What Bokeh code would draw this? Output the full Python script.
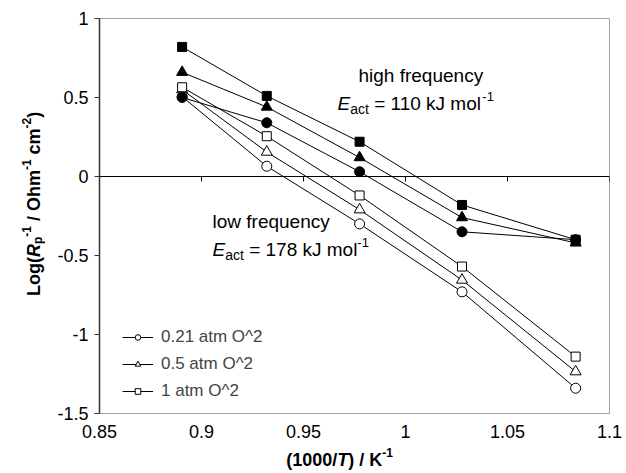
import math
from bokeh.plotting import figure
from bokeh.layouts import column, row
from bokeh.models import Range1d, FixedTicker, Label, Legend, LegendItem, Span
from bokeh.embed import file_html
from bokeh.resources import INLINE

# ---------------- data ----------------
inv_T = [0.8905, 0.9320, 0.9775, 1.0277, 1.0834]

# high frequency arc (filled markers)
hf_021 = [0.50, 0.34, 0.03, -0.35, -0.40]
hf_05 = [0.66, 0.44, 0.12, -0.26, -0.42]
hf_1 = [0.82, 0.51, 0.22, -0.18, -0.40]

# low frequency arc (open markers)
lf_021 = [0.505, 0.065, -0.30, -0.73, -1.34]
lf_05 = [0.55, 0.155, -0.21, -0.655, -1.235]
lf_1 = [0.565, 0.255, -0.12, -0.57, -1.14]

legend_labels = ["0.21 atm O^2", "0.5 atm O^2", "1 atm O^2"]

x_ticks = [0.85, 0.9, 0.95, 1.0, 1.05, 1.1]
x_tick_labels = ["0.85", "0.9", "0.95", "1", "1.05", "1.1"]
y_ticks = [-1.5, -1.0, -0.5, 0.0, 0.5, 1.0]
y_tick_labels = ["-1.5", "-1", "-0.5", "0", "0.5", "1"]

# ---------------- layout constants ----------------
W, H = 626, 473
YT_W = 46            # strip holding the y title
XT_H = 32            # strip holding the x title
MAIN_W, MAIN_H = W - YT_W, H - XT_H
FL, FR, FT = 99, 17, 18          # frame edges in page pixels
FRAME_W = W - FL - FR
FRAME_H = 395
FONT = "Liberation Sans"
X0, X1 = 0.85, 1.1
Y0, Y1 = -1.5, 1.0

p = figure(width=MAIN_W, height=MAIN_H, output_backend="svg",
           toolbar_location=None,
           x_range=Range1d(X0, X1), y_range=Range1d(Y0, Y1),
           min_border_left=FL - YT_W, min_border_right=FR,
           min_border_top=FT, min_border_bottom=MAIN_H - FT - FRAME_H)
p.grid.visible = False
p.outline_line_color = "#a0a0a0"
p.outline_line_width = 1

# left axis
ya = p.yaxis[0]
ya.ticker = FixedTicker(ticks=y_ticks)
ya.major_label_overrides = {t: l for t, l in zip(y_ticks, y_tick_labels)}
ya.axis_line_color = "#333333"
ya.axis_line_width = 1.5
ya.major_tick_line_color = "#333333"
ya.major_tick_in = 0
ya.major_tick_out = 5
ya.minor_tick_line_color = None
ya.major_label_text_font = FONT
ya.major_label_text_font_size = "18px"
ya.major_label_text_color = "black"
ya.major_label_standoff = 6

# bottom axis: labels only (the grey frame line)
xa = p.xaxis[0]
xa.ticker = FixedTicker(ticks=x_ticks)
xa.major_label_overrides = {t: l for t, l in zip(x_ticks, x_tick_labels)}
xa.axis_line_color = "#a0a0a0"
xa.major_tick_line_color = None
xa.minor_tick_line_color = None
xa.major_label_text_font = FONT
xa.major_label_text_font_size = "18px"
xa.major_label_text_color = "black"
xa.major_label_standoff = 5

# horizontal axis crossing at y = 0, with tick marks below it
p.add_layout(Span(location=0, dimension="width", line_color="black",
                  line_width=1))
TICK = 5 * (Y1 - Y0) / FRAME_H
p.segment(x0=x_ticks, y0=[0] * len(x_ticks), x1=x_ticks,
          y1=[-TICK] * len(x_ticks), line_color="black", line_width=1)

# ---------------- series ----------------
def series(y, marker, size, filled):
    r_line = p.line(inv_T, y, line_color="black", line_width=1)
    r_pt = p.scatter(inv_T, y, marker=marker, size=size,
                     fill_color="black" if filled else "white",
                     line_color="black", line_width=1)
    return r_line, r_pt

l021 = series(lf_021, "circle", 10, False)
l05 = series(lf_05, "triangle", 11, False)
l1 = series(lf_1, "square", 9, False)
series(hf_021, "circle", 10, True)
series(hf_05, "triangle", 11, True)
series(hf_1, "square", 9, True)

legend = Legend(items=[LegendItem(label=legend_labels[0], renderers=list(l021)),
                       LegendItem(label=legend_labels[1], renderers=list(l05)),
                       LegendItem(label=legend_labels[2], renderers=list(l1))],
                location=(23, 12), padding=0, margin=0, spacing=7,
                glyph_height=14, glyph_width=31, label_height=14,
                label_standoff=8, label_text_font=FONT,
                label_text_font_size="17px", label_text_baseline="middle",
                background_fill_alpha=0, border_line_alpha=0)
p.add_layout(legend)

# ---------------- rich text helper ----------------
REG = {' ': 278, 'a': 556, 'c': 500, 'e': 556, 'f': 278, 'g': 556, 'h': 556,
       'i': 222, 'k': 500, 'l': 222, 'm': 833, 'n': 556, 'o': 556, 'q': 556,
       'r': 333, 't': 278, 'u': 556, 'w': 722, 'y': 500, 'E': 667, 'J': 500,
       '=': 584, '-': 333, '/': 278, '(': 333, ')': 333}
BOLD = {' ': 278, 'L': 611, 'o': 611, 'g': 611, '(': 333, ')': 333, 'R': 722,
        'p': 611, '-': 333, '/': 278, 'O': 778, 'h': 611, 'm': 889, 'c': 556,
        'T': 611, 'K': 722}


def twidth(s, size, style):
    tab = BOLD if "bold" in style else REG
    return sum(tab.get(ch, 556) for ch in s) * size / 1000.0


def rich(fig, pieces, x, y, angle=0.0, center=False):
    """x, y: anchor in fig data units; pieces advance in screen pixels."""
    total = sum(twidth(t, s, st) for t, s, st, sh in pieces)
    d = -total / 2 if center else 0.0
    for t, s, st, sh in pieces:
        lead = len(t) - len(t.lstrip(" "))
        d += twidth(" " * lead, s, st)
        core = t.strip(" ")
        if angle == 0:
            xo, yo = d, sh
        else:
            xo, yo = -sh, d
        fig.add_layout(Label(x=x, y=y, x_offset=xo, y_offset=yo, text=core,
                             angle=angle, text_font=FONT,
                             text_font_size=f"{s}px", text_font_style=st,
                             text_color="black", text_baseline="alphabetic",
                             text_align="left"))
        d += twidth(t.lstrip(" "), s, st)


def to_data(cx, cy):
    return (X0 + (cx - FL) / FRAME_W * (X1 - X0),
            Y1 - (cy - FT) / FRAME_H * (Y1 - Y0))


rich(p, [("high frequency", 19, "normal", 0)], *to_data(358, 75))
rich(p, [("E", 19, "italic", 0), ("act", 14, "normal", -5),
         (" = 110 kJ mol", 19, "normal", 0), ("-1", 13, "normal", 7)],
     *to_data(337, 103))
rich(p, [("low frequency", 19, "normal", 0)], *to_data(212, 221))
rich(p, [("E", 19, "italic", 0), ("act", 14, "normal", -5),
         (" = 178 kJ mol", 19, "normal", 0), ("-1", 13, "normal", 7)],
     *to_data(212, 249))

# ---------------- title strips (page-pixel coordinates) ----------------
def strip(w, h):
    f = figure(width=w, height=h, output_backend="svg", toolbar_location=None,
               x_range=Range1d(0, w), y_range=Range1d(h, 0),
               x_axis_location=None, y_axis_location=None,
               min_border=0, min_border_left=0, min_border_right=0,
               min_border_top=0, min_border_bottom=0)
    f.grid.visible = False
    f.outline_line_color = None
    return f

yt = strip(YT_W, MAIN_H)
rich(yt, [("Log(", 18, "bold", 0), ("R", 18, "bold italic", 0),
          ("p", 12, "bold", -4), ("-1", 12, "bold", 7),
          (" / Ohm", 18, "bold", 0), ("-1", 12, "bold", 7),
          (" cm", 18, "bold", 0), ("-2", 12, "bold", 7),
          (")", 18, "bold", 0)], 33, 207, angle=math.pi / 2, center=True)

xt = strip(W, XT_H)
rich(xt, [("(1000/", 18, "bold", 0), ("T", 18, "bold italic", 0),
          (") / K", 18, "bold", 0), ("-1", 12, "bold", 7)],
     339, 18, center=True)

layout = column(row(yt, p, spacing=0), xt, spacing=0)

open("out.html", "w").write(file_html(layout, INLINE))
